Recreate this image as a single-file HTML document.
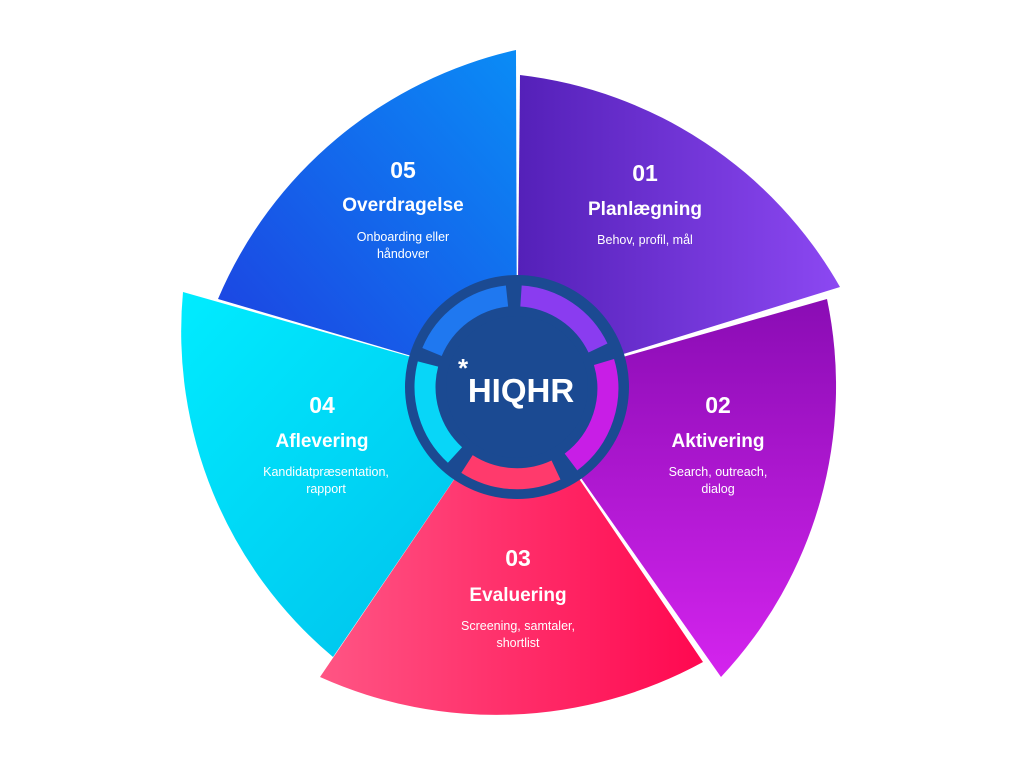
<!DOCTYPE html>
<html><head><meta charset="utf-8"><style>
html,body{margin:0;padding:0;background:#fff;}
svg{display:block;}
text{font-family:"Liberation Sans",sans-serif;fill:#fff;text-anchor:middle;}
.n{font-size:23px;font-weight:bold;}
.t{font-size:19px;font-weight:bold;}
.s{font-size:12.5px;}
</style></head><body>
<svg width="1020" height="765" viewBox="0 0 1020 765" xmlns="http://www.w3.org/2000/svg">
<defs>
<linearGradient id="g5" x1="1" y1="0" x2="0" y2="1"><stop offset="0" stop-color="#0a8cf6"/><stop offset="1" stop-color="#1e3ee0"/></linearGradient>
<linearGradient id="g1" x1="0" y1="0" x2="1" y2="0"><stop offset="0" stop-color="#5420b8"/><stop offset="1" stop-color="#8c48f2"/></linearGradient>
<linearGradient id="g2" x1="0" y1="0" x2="0" y2="1"><stop offset="0" stop-color="#8a0cb4"/><stop offset="1" stop-color="#d424ee"/></linearGradient>
<linearGradient id="g3" x1="0" y1="0" x2="1" y2="0"><stop offset="0" stop-color="#ff5584"/><stop offset="1" stop-color="#ff0850"/></linearGradient>
<linearGradient id="g4" x1="0" y1="0" x2="1" y2="1"><stop offset="0" stop-color="#00ecff"/><stop offset="1" stop-color="#00bdea"/></linearGradient>
</defs>
<path d="M517,387 L827,299 A425,425 0 0 1 721,677 Z" fill="url(#g2)"/>
<path d="M517,387 L183,292 A425,425 0 0 0 333,657 Z" fill="url(#g4)"/>
<path d="M517,387 L520,75 A425,425 0 0 1 840,287 Z" fill="url(#g1)"/>
<path d="M517,387 L218,299 A425,425 0 0 1 516,50 Z" fill="url(#g5)"/>
<path d="M517,387 L703,662 A430,430 0 0 1 320,677 Z" fill="url(#g3)"/>

<circle cx="517" cy="387" r="112" fill="#1b4a92"/>
<g fill="none" stroke-width="21">
<path d="M432,352 A92,92 0 0 1 507,296" stroke="#1f78f0"/>
<path d="M521,296 A92,92 0 0 1 598,348" stroke="#8a3cf0"/>
<path d="M604,362 A92,92 0 0 1 571,462" stroke="#c81ee6"/>
<path d="M556,470 A92,92 0 0 1 467,464" stroke="#ff3a6c"/>
<path d="M455,455 A92,92 0 0 1 428,364" stroke="#08d6f8"/>
</g>
<circle cx="517" cy="387" r="71" fill="#1b4a92"/>
<text x="521" y="402" style="font-size:33px;font-weight:bold;">HIQHR</text>
<text x="463" y="377" style="font-size:26px;font-weight:bold;">*</text>

<text class="n" x="403" y="178">05</text>
<text class="t" x="403" y="211">Overdragelse</text>
<text class="s" x="403" y="241">Onboarding eller</text>
<text class="s" x="403" y="258">håndover</text>

<text class="n" x="645" y="181">01</text>
<text class="t" x="645" y="215">Planlægning</text>
<text class="s" x="645" y="244">Behov, profil, mål</text>

<text class="n" x="718" y="413">02</text>
<text class="t" x="718" y="447">Aktivering</text>
<text class="s" x="718" y="476">Search, outreach,</text>
<text class="s" x="718" y="493">dialog</text>

<text class="n" x="518" y="566">03</text>
<text class="t" x="518" y="601">Evaluering</text>
<text class="s" x="518" y="630">Screening, samtaler,</text>
<text class="s" x="518" y="647">shortlist</text>

<text class="n" x="322" y="413">04</text>
<text class="t" x="322" y="447">Aflevering</text>
<text class="s" x="326" y="476">Kandidatpræsentation,</text>
<text class="s" x="326" y="493">rapport</text>
</svg>
</body></html>
